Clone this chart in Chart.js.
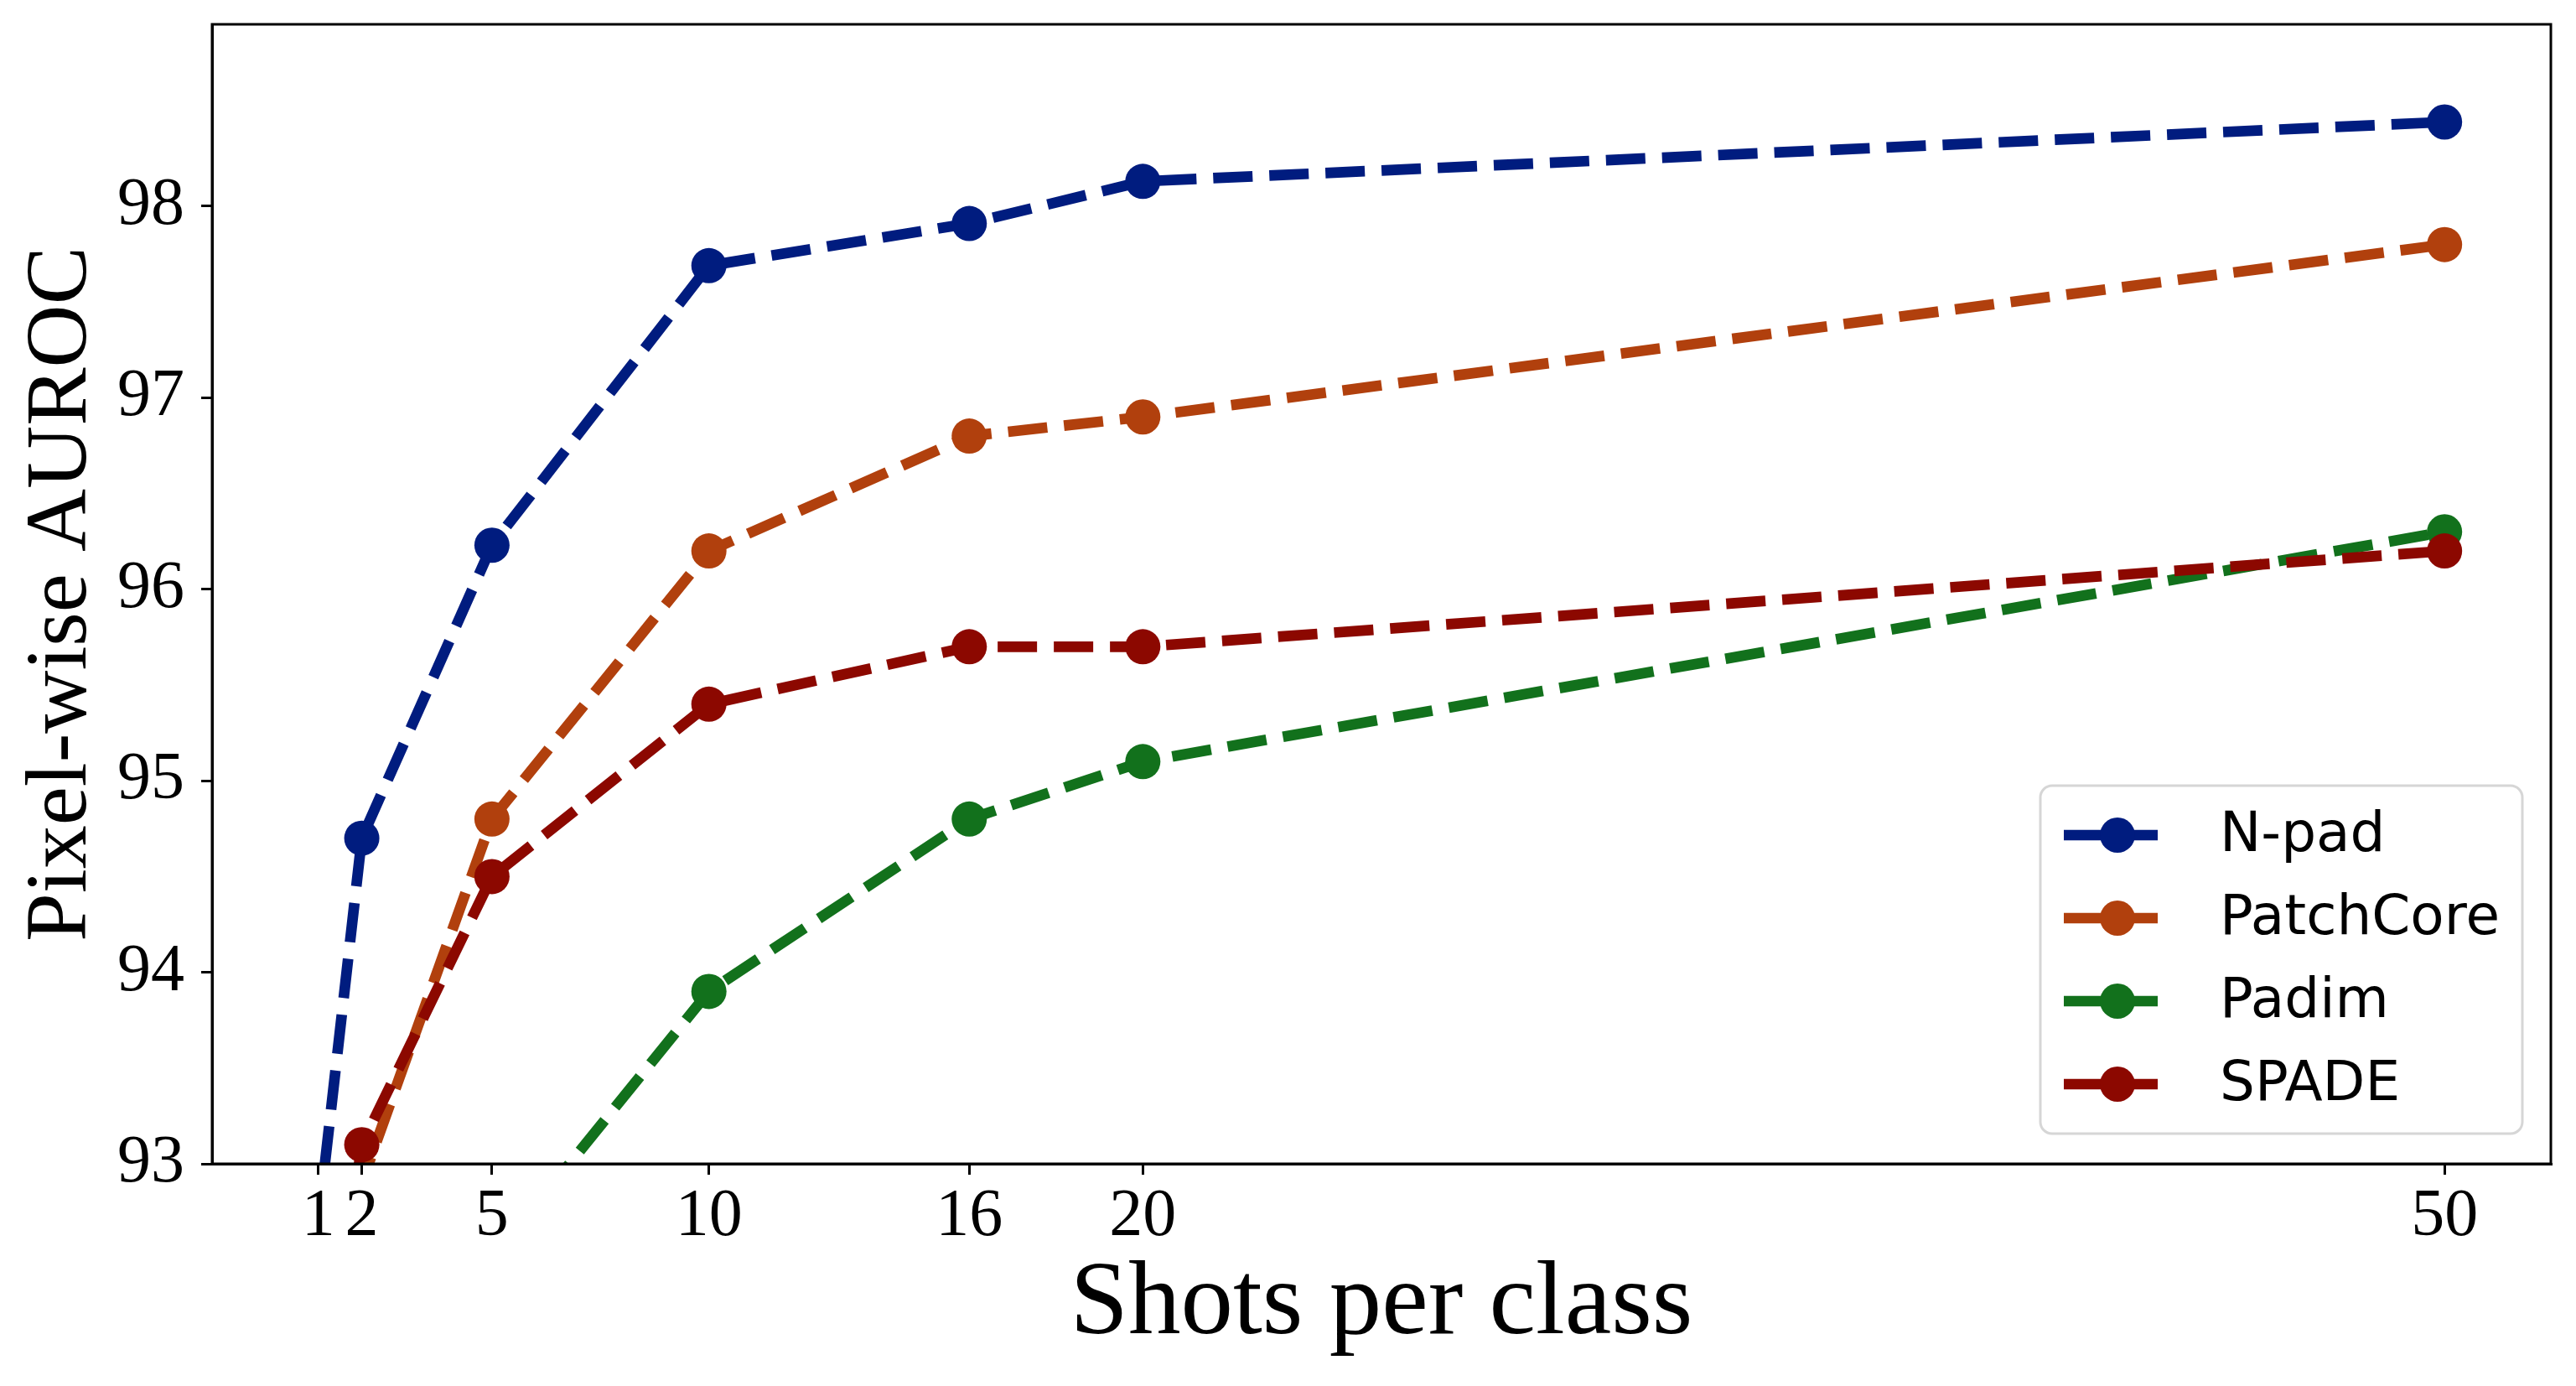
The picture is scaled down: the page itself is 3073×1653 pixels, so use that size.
<!DOCTYPE html>
<html>
<head>
<meta charset="utf-8">
<script src="https://cdn.jsdelivr.net/npm/chart.js@4.4.0/dist/chart.umd.min.js"></script>
<style>
  html, body { margin: 0; padding: 0; background: #fff; }
</style>
</head>
<body>
<canvas id="chart" width="3073" height="1653"></canvas>
<script>
// values (x = shots per class)
const shots = [1, 2, 5, 10, 16, 20, 50];
const nPad = [92.7, 94.7, 96.23, 97.69, 97.91, 98.13, 98.44];
const patchCore = [90.5, 92.9, 94.8, 96.2, 96.8, 96.9, 97.8];
const padim = [91.2, 91.8, 92.5, 93.9, 94.8, 95.1, 96.3];
const spade = [91.5, 93.1, 94.5, 95.4, 95.7, 95.7, 96.2];

const xTicks = [1, 2, 5, 10, 16, 20, 50];
const yTicks = [93, 94, 95, 96, 97, 98];

const seriesNames = ["N-pad", "PatchCore", "Padim", "SPADE"];
const seriesColors = ["#001c7f", "#b1400d", "#12711c", "#8c0800"];
const seriesValues = [nPad, patchCore, padim, spade];

const serif = "'Liberation Serif', 'Times New Roman', serif";
const LW = 12.7;

function makeDataset(i) {
  return {
    label: seriesNames[i],
    data: shots.map((x, j) => ({ x: x, y: seriesValues[i][j] })),
    borderColor: seriesColors[i],
    backgroundColor: seriesColors[i],
    pointBackgroundColor: seriesColors[i],
    borderWidth: LW,
    borderDash: [47, 20],
    pointRadius: 21,
    pointBorderWidth: 0,
    pointHoverRadius: 21,
    tension: 0,
    clip: 0,
    order: 3 - i // later series drawn on top, like matplotlib
  };
}

// box around the plot area
const frame = {
  id: "frame",
  afterDraw(chart) {
    const a = chart.chartArea;
    const ctx = chart.ctx;
    ctx.save();
    ctx.strokeStyle = "#000";
    ctx.lineWidth = 3;
    ctx.strokeRect(a.left, a.top, a.right - a.left, a.bottom - a.top);
    ctx.restore();
  }
};

// matplotlib-style legend in the lower right corner
const boxLegend = {
  id: "boxLegend",
  afterDraw(chart) {
    const a = chart.chartArea;
    const ctx = chart.ctx;
    const w = 575, h = 415;
    const x0 = a.right - 34 - w;
    const y0 = a.bottom - 36 - h;
    ctx.save();
    ctx.beginPath();
    ctx.roundRect(x0, y0, w, h, 14);
    ctx.fillStyle = "rgba(255,255,255,0.85)";
    ctx.fill();
    ctx.lineWidth = 3;
    ctx.strokeStyle = "#d6d6d6";
    ctx.stroke();

    ctx.font = "66px 'DejaVu Sans'";
    ctx.textBaseline = "middle";
    ctx.textAlign = "left";
    chart.data.datasets.forEach((ds, i) => {
      const cy = y0 + 59 + i * 99;
      ctx.strokeStyle = ds.borderColor;
      ctx.lineWidth = LW;
      ctx.beginPath();
      ctx.moveTo(x0 + 28, cy);
      ctx.lineTo(x0 + 140, cy);
      ctx.stroke();
      ctx.fillStyle = ds.borderColor;
      ctx.beginPath();
      ctx.arc(x0 + 92, cy, 21, 0, Math.PI * 2);
      ctx.fill();
      ctx.fillStyle = "#000";
      ctx.fillText(ds.label, x0 + 214, cy + 2);
    });
    ctx.restore();
  }
};

function noEdgePadding(scale) {
  scale.paddingTop = 0;
  scale.paddingBottom = 0;
  scale.paddingLeft = 0;
  scale.paddingRight = 0;
}

new Chart(document.getElementById("chart"), {
  type: "line",
  data: { datasets: [0, 1, 2, 3].map(makeDataset) },
  options: {
    responsive: false,
    animation: false,
    devicePixelRatio: 1,
    layout: { padding: { top: 29, right: 30, left: 0, bottom: 0 } },
    plugins: {
      legend: { display: false },
      tooltip: { enabled: false }
    },
    scales: {
      x: {
        type: "linear",
        min: -1.45,
        max: 52.45,
        afterBuildTicks(scale) { scale.ticks = xTicks.map(v => ({ value: v })); },
        afterFit(scale) { scale.height = 265; noEdgePadding(scale); },
        grid: { display: true, drawOnChartArea: false, drawTicks: true, tickLength: 13, color: "#000", lineWidth: 3 },
        border: { display: true, color: "#000", width: 3 },
        ticks: { color: "#000", font: { family: serif, size: 80 }, padding: 3, maxRotation: 0, autoSkip: false },
        title: { display: true, text: "Shots per class", color: "#000", font: { family: serif, size: 125, lineHeight: 1 }, padding: { top: 0, bottom: 33 } }
      },
      y: {
        type: "linear",
        min: 93,
        max: 98.95,
        afterBuildTicks(scale) { scale.ticks = yTicks.map(v => ({ value: v })); },
        afterFit(scale) { scale.width = 253; noEdgePadding(scale); },
        grid: { display: true, drawOnChartArea: false, drawTicks: true, tickLength: 13, color: "#000", lineWidth: 3 },
        border: { display: true, color: "#000", width: 3 },
        ticks: { color: "#000", font: { family: serif, size: 80 }, padding: 20 },
        title: { display: true, text: "Pixel-wise AUROC", color: "#000", font: { family: serif, size: 104, lineHeight: 1 }, padding: { top: 23, bottom: 0 } }
      }
    }
  },
  plugins: [frame, boxLegend]
});
</script>
</body>
</html>
